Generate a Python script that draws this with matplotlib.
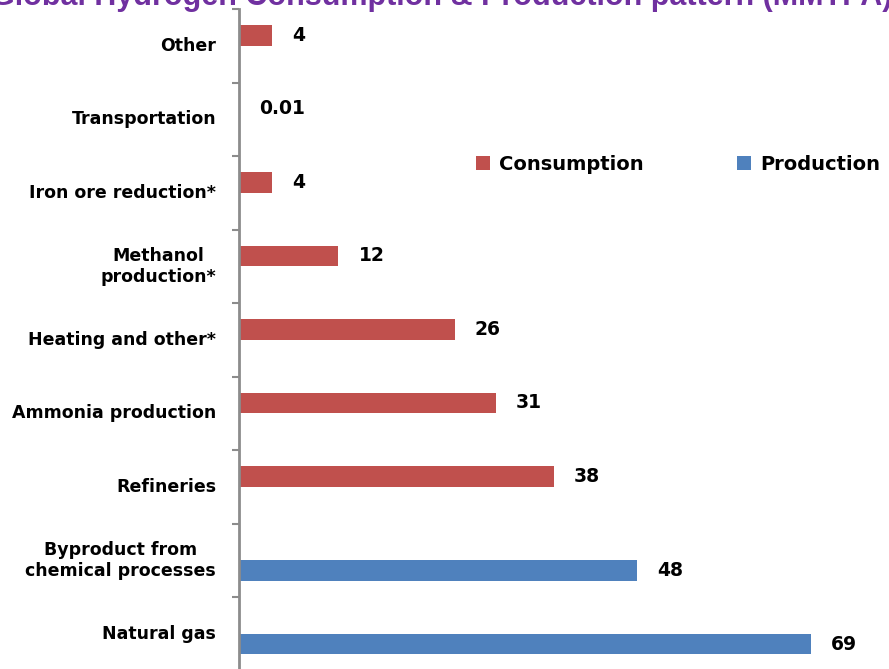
import numpy as np
import matplotlib.pyplot as plt
from matplotlib.patches import Patch

# Categories from top to bottom
categories = ["Other", "Transportation", "Iron ore reduction*", "Methanol\nproduction*",
              "Heating and other*", "Ammonia production", "Refineries",
              "Byproduct from\nchemical processes", "Natural gas"]

# Million metric tonnes per annum (None = no bar in that series)
consumption = [4, 0.01, 4, 12, 26, 31, 38, None, None]
production = [None, None, None, None, None, None, None, 48, 69]

RED = "#C0504D"
BLUE = "#4F81BD"
AXIS_GREY = "#8C8C8C"
TITLE_PURPLE = "#7030A0"

plt.rcParams["font.family"] = ["DejaVu Sans"]

fig = plt.figure(figsize=(8.89, 6.69), dpi=100)
W, H = 889, 669
# Plot area: value axis at x=239, categories span y=9..670
ax = fig.add_axes([239 / W, (H - 670.5) / H, (80 * 8.29) / W, (670.5 - 9) / H])

ypos = np.arange(len(categories))
bar_h = 0.28


def draw_series(values, shift, color):
    for i, v in enumerate(values):
        if v is None:
            continue
        y = ypos[i] + shift
        ax.barh(y, v, height=bar_h, color=color, edgecolor="none")
        ax.annotate(f"{v:g}", xy=(v, y), xytext=(20, 0), textcoords="offset pixels",
                    ha="left", va="center", fontsize=13.5, fontweight="bold",
                    color="black")


draw_series(consumption, -bar_h / 2, RED)
draw_series(production, bar_h / 2, BLUE)

ax.set_xlim(0, 80)
ax.set_ylim(len(categories) - 0.5, -0.5)

# Category labels, centred between the boundary ticks
ax.set_yticks([])
for y, name in zip(ypos, categories):
    ax.annotate(name, xy=(0, y), xytext=(-23, 0), textcoords="offset pixels",
                ha="right", va="center", multialignment="center",
                fontsize=12.5, fontweight="bold", color="black",
                annotation_clip=False)
ax.set_yticks(np.arange(len(categories) + 1) - 0.5, minor=True)
ax.tick_params(axis="y", which="minor", length=5, width=1.5, color=AXIS_GREY, direction="out")

ax.set_xticks([])
for side in ["top", "right", "bottom"]:
    ax.spines[side].set_visible(False)
ax.spines["left"].set_color(AXIS_GREY)
ax.spines["left"].set_linewidth(2)

handles = [Patch(facecolor=RED, label="Consumption"), Patch(facecolor=BLUE, label="Production")]
fig.legend(handles=handles, loc="center left", bbox_to_anchor=(458 / W, 1 - 164 / H),
           ncol=2, frameon=False, prop={"weight": "bold", "size": 14},
           handlelength=0.75, handleheight=0.75, handletextpad=0.45, columnspacing=4.8)

fig.text(442 / W, 1 - 5 / H, "Global Hydrogen Consumption & Production pattern (MMTPA)",
         ha="center", va="baseline", fontsize=22, fontweight="bold",
         color=TITLE_PURPLE, family=["Liberation Sans", "DejaVu Sans"])

fig.savefig("out.png", dpi=100)
